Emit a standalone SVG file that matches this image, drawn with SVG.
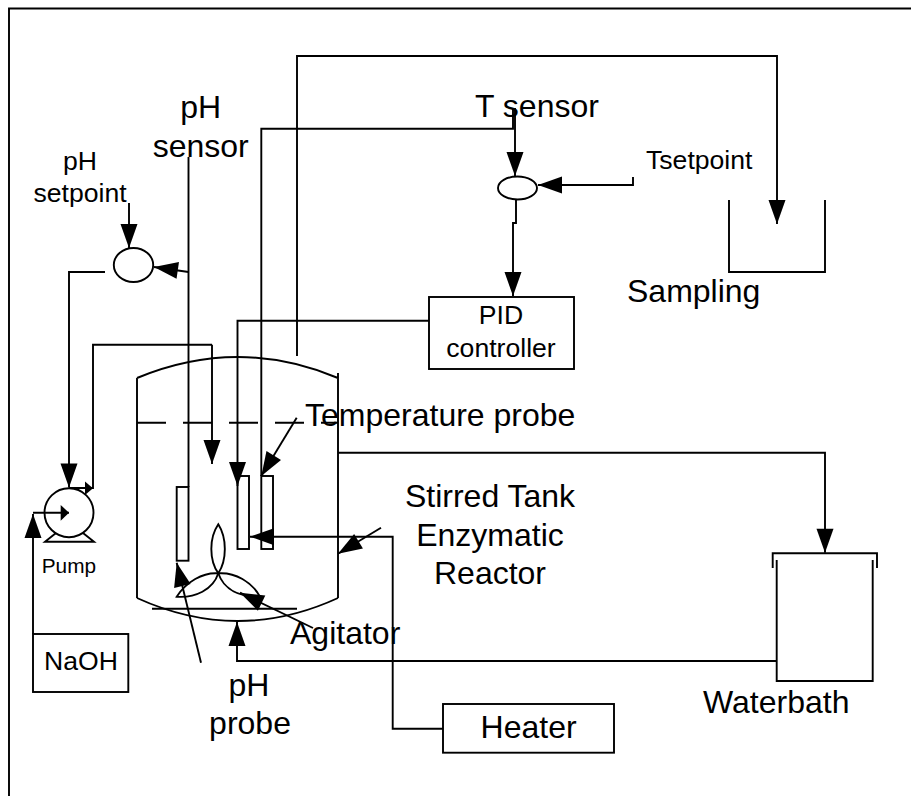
<svg xmlns="http://www.w3.org/2000/svg" width="911" height="796" viewBox="0 0 911 796">
<style>
text{font-family:"Liberation Sans",Arial,sans-serif;fill:#000;font-size:32px}
.m{font-size:26.6px}.s{font-size:20.8px}.c{text-anchor:middle}
path,rect,ellipse,circle,line{fill:none;stroke:#000;stroke-width:1.9}
.a{marker-end:url(#h)}
</style>
<defs>
<marker id="h" markerUnits="userSpaceOnUse" markerWidth="26" markerHeight="20" viewBox="0 0 26 20" refX="25" refY="10" orient="auto"><polygon points="1,1.5 25,10 1,18.5" fill="#000" stroke="none"/></marker>
</defs>
<g id="frame"><path d="M911 8.5H9V796"/></g>
<g id="reactor">
<path d="M137 378Q238 336 338 378M338 373V598M137 378V598M137 598Q238 644 338 598"/>
<path d="M137 422.7H338" stroke-dasharray="29 17"/>
<path d="M152 608.7H297"/>
<text x="490" y="507" class="c">Stirred Tank</text>
<text x="490" y="545.7" class="c">Enzymatic</text>
<text x="490" y="584" class="c">Reactor</text>
</g>
<g id="ph-probe"><rect x="176.7" y="487" width="11.8" height="73.7"/>
<text x="249" y="696" class="c">pH</text><text x="250" y="733.5" class="c">probe</text></g>
<g id="temp-probe-a"><rect x="237.5" y="476" width="11.5" height="73"/></g>
<g id="temp-probe-b"><rect x="261.3" y="476" width="11.7" height="73"/>
<text x="305" y="425.7">Temperature probe</text></g>
<g id="agitator">
<path d="M218.3 573.3C209 560 209 538 218.3 524.3C227 538 227 560 218.3 573.3Z"/>
<path d="M218.3 573.3C203 572 186 582 176.7 596.7C195 598 213 590 218.3 573.3Z"/>
<path d="M218.3 573.3C235 572 252 582 260 596.7C240 597 224 590 218.3 573.3Z"/>
<text x="290" y="644">Agitator</text>
</g>
<g id="pump">
<circle cx="69" cy="512.7" r="24.5"/>
<path d="M56 533L45 541.7H94L83 533"/>
<polygon points="85,481.5 93,488.3 85,495" fill="#000"/>
<polygon points="60.7,505 69,512.7 60.7,520.7" fill="#000"/>
<text x="41.7" y="572.7" class="s">Pump</text>
</g>
<g id="naoh"><rect x="33" y="634" width="95.3" height="58"/><text x="44" y="670" class="m">NaOH</text></g>
<g id="heater"><rect x="443" y="704" width="171" height="48.7"/><text x="528.6" y="738" class="c">Heater</text></g>
<g id="waterbath">
<path d="M776.7 560V681H872.7V560"/>
<path d="M772.7 568V553.3H877V568"/>
<text x="703" y="713">Waterbath</text>
</g>
<g id="sampling"><path d="M729 200V272H825V200"/><text x="627" y="301.7">Sampling</text></g>
<g id="pid"><rect x="429" y="297" width="145" height="72"/>
<text x="501" y="324" class="m c">PID</text><text x="501" y="356.7" class="m c">controller</text></g>
<g id="ph-comparator"><ellipse cx="133.5" cy="265" rx="19.7" ry="17"/>
<text x="80" y="170" class="m c">pH</text><text x="80" y="201.7" class="m c">setpoint</text></g>
<g id="ph-sensor"><text x="200.7" y="118" class="c">pH</text><text x="200.7" y="157" class="c">sensor</text></g>
<g id="t-comparator"><ellipse cx="517.5" cy="188" rx="19.5" ry="11.5"/>
<text x="475" y="116.7">T sensor</text><text x="646" y="169" class="m">Tsetpoint</text></g>
<g id="connectors">
<path d="M188.5 157V487" stroke-width="2.4"/>
<path class="a" d="M188.5 272L154 267"/>
<path class="a" d="M129 203V248"/>
<path class="a" d="M105 272H69V487.5"/>
<path d="M69 488H93V344.7H212"/>
<path class="a" d="M212 344.7V464"/>
<path d="M33 512.7H69"/>
<path class="a" d="M33 634V514"/>
<path class="a" d="M429 320.7H237.5V486"/>
<path d="M261.3 476V128.7H513V108"/>
<path class="a" d="M515 108V176"/>
<path class="a" d="M633 177V185H538"/>
<path class="a" d="M516 200V223H513V296"/>
<path class="a" d="M297 356V56H777V224"/>
<path class="a" d="M338 452.7H825V552.7"/>
<path class="a" d="M776.7 661H237V622"/>
<path class="a" d="M443 728.7H392.7V536.7H250"/>
<path class="a" d="M296.7 417.7L261.3 476"/>
<path class="a" d="M381 527.7L338 553.7"/>
<path class="a" d="M201 662.7L176.7 562.7"/>
<path class="a" d="M313 628L240 592.7"/>
</g>
</svg>
